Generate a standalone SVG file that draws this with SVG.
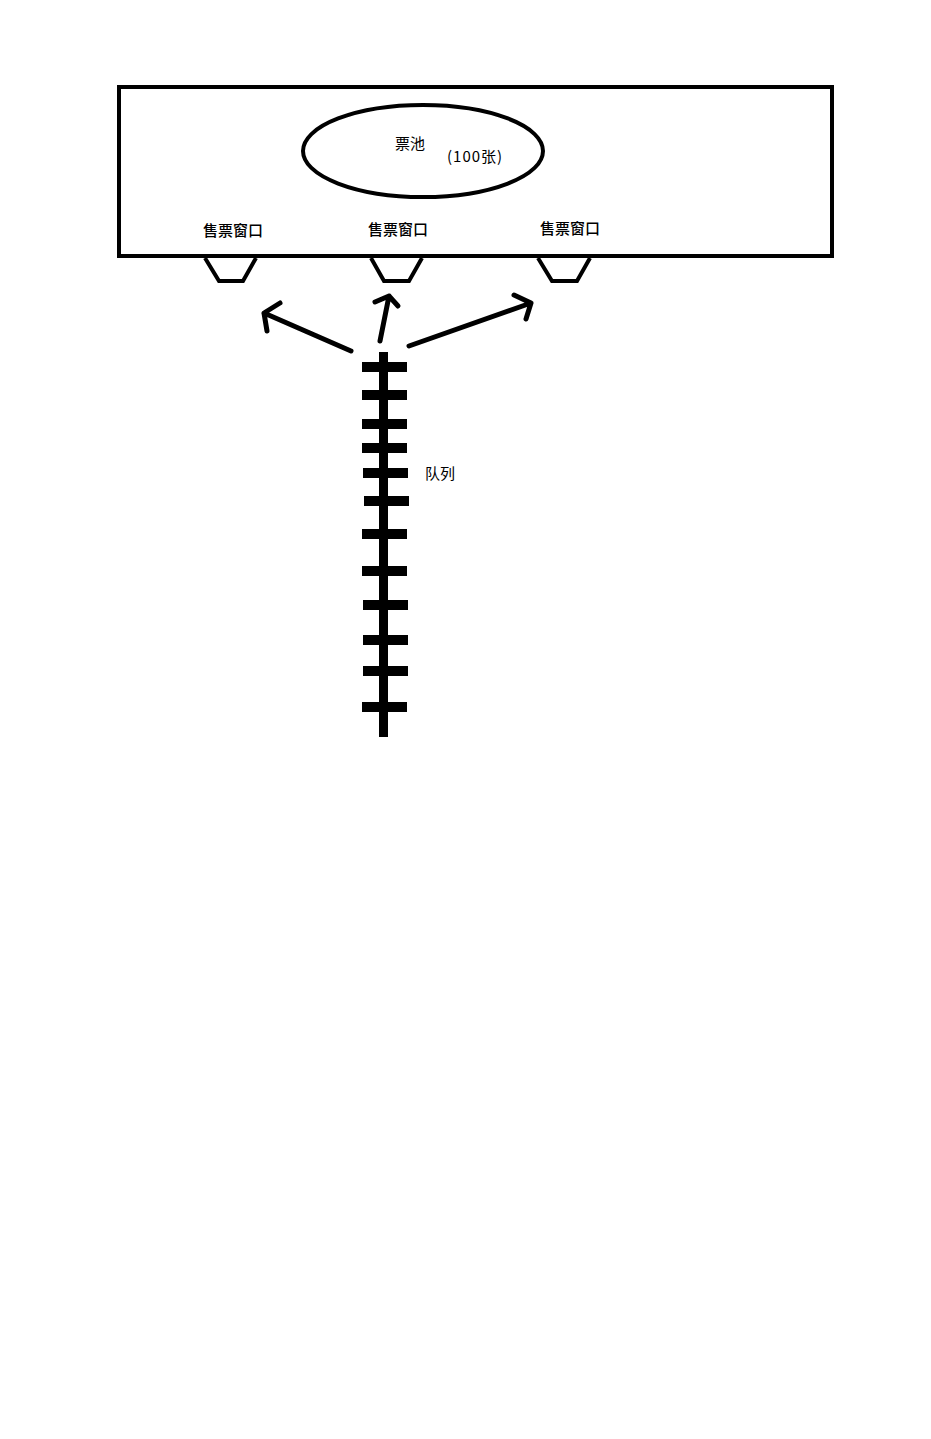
<svg xmlns="http://www.w3.org/2000/svg" width="931" height="1439" viewBox="0 0 931 1439">
<style>
.s{fill:none;stroke:#000;stroke-width:4;stroke-linejoin:miter}
.a{fill:none;stroke:#000;stroke-width:5;stroke-linecap:round;stroke-linejoin:round}
.t{font-family:"Noto Sans CJK SC","Microsoft YaHei",sans-serif;font-size:15px;fill:#000}
.b{font-weight:500}
</style>
<rect x="0" y="0" width="931" height="1439" fill="#fff"/>
<g id="hall">
<rect class="s" x="119" y="87" width="713" height="169"/>
</g>
<g id="pool">
<ellipse class="s" cx="423" cy="151" rx="120" ry="46"/>
<text class="t" x="395" y="149">票池</text>
<text class="t" x="447" y="162" letter-spacing="1">(100张)</text>
</g>
<g id="window1">
<text class="t b" x="203" y="236">售票窗口</text>
<polyline class="s" points="205,258 219,281 243,281 256,258"/>
</g>
<g id="window2">
<text class="t b" x="368" y="235">售票窗口</text>
<polyline class="s" points="371,258 384,281 409,281 422,258"/>
</g>
<g id="window3">
<text class="t b" x="540" y="234">售票窗口</text>
<polyline class="s" points="538,258 552,281 577,281 590,258"/>
</g>
<g id="queue">
<rect x="379" y="352" width="9" height="385" fill="#000"/>
<g fill="#000">
<rect x="362" y="362" width="45" height="10"/>
<rect x="362" y="390" width="45" height="10"/>
<rect x="362" y="419" width="45" height="10"/>
<rect x="362" y="443" width="45" height="10"/>
<rect x="363" y="468" width="45" height="10"/>
<rect x="364" y="496" width="45" height="10"/>
<rect x="362" y="529" width="45" height="10"/>
<rect x="362" y="566" width="45" height="10"/>
<rect x="363" y="600" width="45" height="10"/>
<rect x="363" y="635" width="45" height="10"/>
<rect x="363" y="666" width="45" height="10"/>
<rect x="362" y="702" width="45" height="10"/>
</g>
<text class="t" x="425" y="479">队列</text>
</g>
<g id="connectors">
<path class="a" d="M351,351 L264,313 M280,303 L264,313 L267,331"/>
<path class="a" d="M380,341 L389,296 M375,302 L389,296 L398,306"/>
<path class="a" d="M409,346 L531,303 M514,295 L531,303 L526,319"/>
</g>
</svg>
